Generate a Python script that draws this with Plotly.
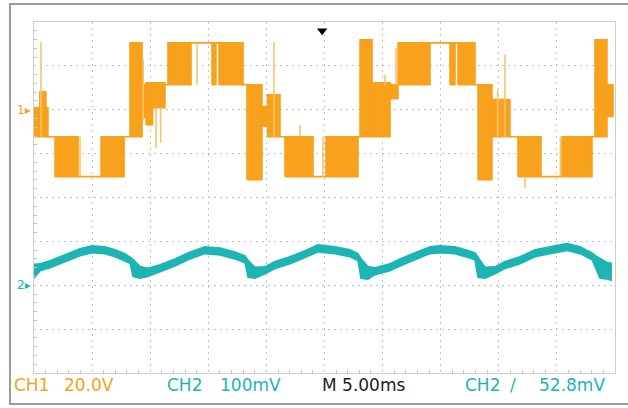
import plotly.graph_objects as go

# ---------------- data ----------------
# CH1 (20 V/div): PWM multilevel voltage, as bands switched between levels
ch1_start = [0.0, 0.5, 1.03, 1.2, 1.81, 3.79, 5.77, 7.75, 8.26, 9.3, 9.64, 10.2, 11.27, 11.53,
             13.51, 15.32, 15.66, 15.92, 17.99, 18.33, 19.62, 20.1, 21.17, 21.60, 24.01, 25.13,
             27.88, 28.06, 29.09, 30.64, 31.33, 34.08, 35.80, 36.23, 36.49, 37.95, 38.21, 39.41,
             40.96, 41.65, 43.63, 45.44, 48.02, 48.28, 49.31]
ch1_end = [0.5, 1.03, 1.2, 1.81, 3.79, 5.77, 7.75, 8.26, 9.3, 9.64, 10.2, 11.27, 11.53, 13.51,
           15.32, 15.66, 15.92, 17.99, 18.33, 19.62, 20.1, 21.17, 21.60, 24.01, 25.13, 27.88,
           28.06, 29.09, 30.64, 31.33, 34.08, 35.80, 36.23, 36.49, 37.95, 38.21, 39.41, 40.96,
           41.65, 43.63, 45.44, 48.02, 48.28, 49.31, 49.83]
ch1_low = [-12.3, -12.3, -12.3, -12.3, -30.5, -30.5, -30.5, -12.3, -12.3, -3.6, -6.8, 0.9, 11.4, 11.4,
           30.5, 11.4, 30.5, 11.4, 11.4, -31.9, -7.5, -12.3, -12.3, -30.5, -30.5, -30.5,
           -12.3, -12.3, -12.3, 5.0, 11.4, 30.5, 11.4, 30.5, 11.4, 11.4, -31.9, -12.3,
           -12.3, -30.5, -30.5, -30.5, -12.3, -12.3, -3.0]
ch1_high = [0.9, 8.2, 0.9, -12.3, -12.3, -30.5, -12.3, -12.3, 30.5, 11.4, 12.3, 12.3, 11.4, 30.5,
            30.5, 30.5, 30.5, 30.5, 11.4, 11.4, 1.5, 6.8, -12.3, -12.3, -30.5, -12.3,
            -12.3, 31.9, 12.3, 11.4, 30.5, 30.5, 30.5, 30.5, 30.5, 11.4, 11.4, 4.6,
            -12.3, -12.3, -30.5, -12.3, -12.3, 31.9, 11.4]

# CH1 switching spikes (time ms, from V, to V)
spike_t = [0.6, 3.96, 9.4, 10.5, 10.9, 14.03, 20.65, 22.89, 24.87, 30.21, 31.15, 39.9, 40.53, 42.25, 45.3]
spike_from = [-12.3, -30.5, -5.0, -17.3, -15.0, 11.4, -12.3, -12.3, -30.5, 11.0, 11.4, -12.3, -12.3, -35.5, -30.5]
spike_to = [31.0, -12.3, 22.8, 0.9, 0.9, 30.5, 31.0, -6.8, -12.3, 15.9, 28.2, 9.0, 25.1, -30.5, -12.3]

# CH2 (100 mV/div): ripple signal, upper/lower edge of the trace
ch2_t = [0, 0.52, 1.38, 2.24, 3.10, 3.96, 4.99, 6.11, 6.97, 7.83, 8.26, 8.52, 9.12, 9.81, 10.84,
         12.13, 13.43, 14.72, 16.01, 17.30, 18.16, 18.42, 19.02, 19.88, 20.74, 22.03, 23.32,
         24.44, 25.90, 27.19, 27.88, 28.14, 28.74, 29.35, 30.64, 31.50, 32.79, 34.08, 34.94,
         36.23, 37.35, 37.95, 38.21, 38.81, 39.67, 40.53, 41.82, 43.12, 44.41, 45.87, 46.99,
         48.02, 48.28, 48.71, 49.31, 49.74]
ch2_hi = [48, 49, 56, 65, 74, 83, 90, 88, 81, 72, 64, 59, 43, 39, 47, 60, 76, 88, 85, 76,
          67, 57, 41, 42, 54, 65, 79, 92, 88, 81, 72, 61, 43, 40, 49, 60, 74, 88, 90, 88,
          79, 74, 64, 41, 42, 54, 65, 81, 88, 95, 88, 74, 68, 61, 52, 50]
ch2_lo = [16, 33, 40, 49, 58, 67, 74, 72, 65, 56, 50, 20, 16, 20, 31, 44, 60, 72, 69, 60,
          51, 18, 16, 26, 38, 49, 63, 76, 72, 65, 56, 16, 14, 24, 33, 44, 58, 72, 74, 72,
          63, 58, 18, 16, 26, 38, 49, 65, 72, 79, 72, 58, 43, 16, 14, 11]

trigger_time = [24.8]
trigger_level = [36]

status_texts = ["CH1", "20.0V", "CH2", "100mV", "M 5.00ms", "CH2", "/", "52.8mV"]

# ---------------- styling ----------------
ORANGE = "#F7A11C"
ORANGE_LIGHT = "#F6C46E"
TEAL = "#1DB4B4"
GRID = "#c2c2c2"

fig = go.Figure()

# CH1 bands as closed polygons
bx, by = [], []
for t0, t1, lo, hi in zip(ch1_start, ch1_end, ch1_low, ch1_high):
    bx += [t0, t1, t1, t0, t0, None]
    by += [lo, lo, hi, hi, lo, None]
fig.add_trace(go.Scatter(x=bx, y=by, mode="lines", fill="toself", fillcolor=ORANGE,
                         line=dict(color=ORANGE, width=1.6), yaxis="y", hoverinfo="skip"))

# spikes
sx, sy = [], []
for t, a, b in zip(spike_t, spike_from, spike_to):
    sx += [t, t, None]
    sy += [a, b, None]
fig.add_trace(go.Scatter(x=sx, y=sy, mode="lines", line=dict(color=ORANGE_LIGHT, width=1.6),
                         yaxis="y", hoverinfo="skip"))

# CH2 trace band
fig.add_trace(go.Scatter(x=ch2_t, y=ch2_lo, mode="lines", line=dict(color=TEAL, width=1.5),
                         yaxis="y2", hoverinfo="skip"))
fig.add_trace(go.Scatter(x=ch2_t, y=ch2_hi, mode="lines", line=dict(color=TEAL, width=1.5),
                         fill="tonexty", fillcolor=TEAL, yaxis="y2", hoverinfo="skip"))

# trigger marker
fig.add_trace(go.Scatter(x=trigger_time, y=trigger_level, mode="markers", yaxis="y",
                         marker=dict(symbol="triangle-down", size=9, color="black"),
                         cliponaxis=False, hoverinfo="skip"))

axis_common = dict(showgrid=True, gridcolor=GRID, griddash="2px,4px", gridwidth=1,
                   showticklabels=False, zeroline=False, showline=True,
                   linecolor="#cdcdcd", linewidth=1, mirror=True, ticks="")

fig.update_layout(
    width=628, height=408,
    margin=dict(l=34, r=13, t=22, b=35),
    paper_bgcolor="white", plot_bgcolor="white",
    showlegend=False,
    xaxis=dict(range=[0, 50], dtick=5, **axis_common,
               minor=dict(ticks="inside", ticklen=3, dtick=1, tickcolor=GRID, showgrid=False)),
    yaxis=dict(range=[-120, 40], dtick=20, **axis_common,
               minor=dict(ticks="inside", ticklen=3, dtick=4, tickcolor=GRID, showgrid=False)),
    yaxis2=dict(range=[-200, 600], overlaying="y", visible=False),
)

# outer frame (left, top, bottom)
W, H = 581.0, 351.0
xl = (10 - 34) / W
xr = (628 - 34) / W
yt = (373 - 4) / H
yb = (373 - 404) / H
fig.add_shape(type="path", xref="paper", yref="paper",
              path=f"M {xr},{yt} L {xl},{yt} L {xl},{yb} L {xr},{yb}",
              line=dict(color="#9a9a9a", width=2))

# channel ground markers
fig.add_annotation(x=-0.002, y=0, xref="paper", yref="y", text="1▸", showarrow=False,
                   xanchor="right", yanchor="middle", font=dict(family="DejaVu Sans", size=12, color=ORANGE))
fig.add_annotation(x=-0.002, y=0, xref="paper", yref="y2", text="2▸", showarrow=False,
                   xanchor="right", yanchor="middle", font=dict(family="DejaVu Sans", size=12, color=TEAL))

# status line
status_x_px = [12, 62, 165, 218, 320, 463, 508, 537]
status_colors = [ORANGE, ORANGE, TEAL, TEAL, "#222222", TEAL, TEAL, TEAL]
for txt, px, col in zip(status_texts, status_x_px, status_colors):
    fig.add_annotation(x=(px - 34) / W, y=(373 - 385) / H, xref="paper", yref="paper",
                       text=txt, showarrow=False, xanchor="left", yanchor="middle",
                       font=dict(family="DejaVu Sans", size=17, color=col))

fig.write_html("out.html", config={"displayModeBar": False, "staticPlot": True})

# remove the default page margin so the figure sits at the window origin
with open("out.html", "r", encoding="utf-8") as f:
    html = f.read()
html = html.replace("<head>", "<head><style>html,body{margin:0;padding:0;overflow:hidden;}</style>", 1)
with open("out.html", "w", encoding="utf-8") as f:
    f.write(html)
